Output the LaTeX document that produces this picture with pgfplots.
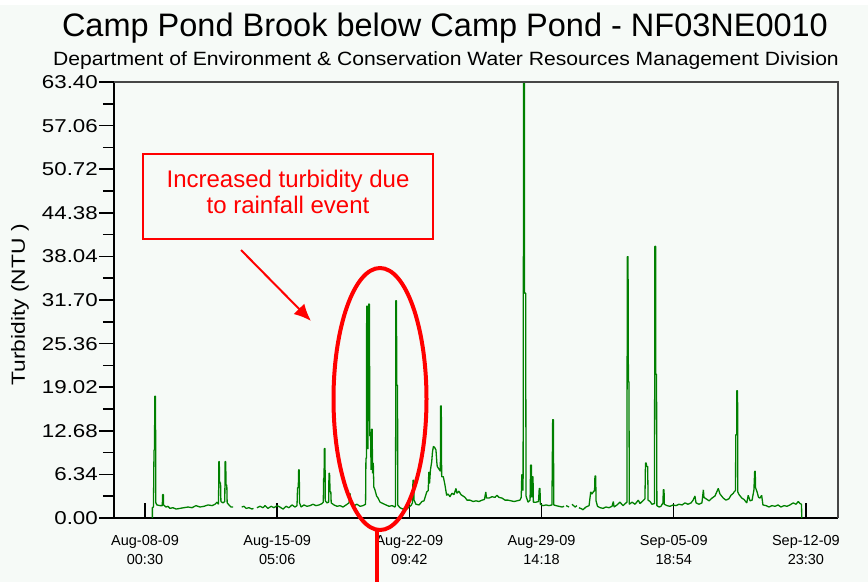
\documentclass[border=0pt]{standalone}
\usepackage{fontspec}
\setmainfont{Liberation Sans}
\newfontfamily\widefont[FakeStretch=1.2]{Liberation Sans}
\usepackage{pgfplots}
\pgfplotsset{compat=1.18}
\usetikzlibrary{arrows.meta}
\definecolor{bg}{RGB}{246,250,247}
\definecolor{dgreen}{RGB}{0,128,0}
\definecolor{boxgray}{RGB}{70,70,70}
\begin{document}
\begin{tikzpicture}[x=1pt,y=1pt]
\useasboundingbox (0,0) rectangle (868,-582);
\fill[bg] (0,0) rectangle (868,-582);
\fill[white] (0,0) rectangle (868,-5);
\begin{axis}[
  at={(114pt,-518pt)}, anchor=south west,
  width=724pt, height=436pt, scale only axis,
  xmin=-1.687, xmax=37.704, ymin=0, ymax=63.4,
  clip=false,
  axis lines*=left,
  axis line style={black, line width=1.8pt},
  xtick={0,7.191667,14.383333,21.575,28.766667,35.958333},
  xticklabels={{Aug-08-09\\00:30},{Aug-15-09\\05:06},{Aug-22-09\\09:42},{Aug-29-09\\14:18},{Sep-05-09\\18:54},{Sep-12-09\\23:30}},
  ytick={0,6.34,12.68,19.02,25.36,31.70,38.04,44.38,50.72,57.06,63.40},
  yticklabels={0.00,6.34,12.68,19.02,25.36,31.70,38.04,44.38,50.72,57.06,63.40},
  minor y tick num=1,
  xtick align=inside, ytick align=outside,
  major tick length=15pt, minor tick length=11pt,
  tick style={black, line width=1.5pt},
  xticklabel style={font=\fontsize{14.5}{19}\selectfont, align=center, yshift=-14pt},
  yticklabel style={font=\widefont\fontsize{18.6}{20}\selectfont, inner sep=1pt},
]
\addplot[dgreen, line width=1.3pt, unbounded coords=jump, line join=bevel] coordinates {
(0.40,0) (0.40,1.5) (0.46,1.6) (0.49,9.9) (0.52,9.9) (0.53,17.7) (0.57,17.7) (0.59,2.2)
(0.65,1.9) (0.82,1.8) (0.94,1.8) (0.96,3.4) (1.00,3.4) (1.01,1.9) (1.14,1.6) (1.25,1.7)
(1.36,1.4) (1.52,1.5) (1.69,1.3) (1.90,1.4) (2.12,1.5) (2.34,1.6) (2.56,1.5) (2.77,1.8)
(2.99,1.6) (3.21,1.7) (3.43,1.9) (3.65,1.8) (3.81,2.0) (3.92,2.3) (4.00,2.0) (4.02,8.2)
(4.04,8.2) (4.06,5.1) (4.11,5.1) (4.13,2.4) (4.24,2.2) (4.34,2.4) (4.36,8.2) (4.39,8.2)
(4.41,4.8) (4.45,4.8) (4.47,2.2) (4.57,1.9) (4.68,1.6) (4.79,1.6) (4.80,nan)
(5.26,1.6) (5.39,1.7) (5.50,1.4) (5.66,1.5) (5.82,1.3) (5.90,1.4) (5.95,nan)
(6.09,1.5) (6.26,1.7) (6.42,1.5) (6.53,1.8) (6.69,1.4) (6.86,1.7) (7.02,1.5) (7.18,1.8)
(7.34,1.6) (7.51,1.3) (7.67,1.7) (7.83,1.5) (8.00,1.9) (8.16,1.6) (8.27,1.8) (8.30,4.4)
(8.34,4.4) (8.36,7.0) (8.39,7.0) (8.41,2.2) (8.49,1.6) (8.65,1.9) (8.81,1.7) (8.98,1.8)
(9.14,2.0) (9.30,1.8) (9.47,1.9) (9.63,2.1) (9.70,2.3) (9.72,5.8) (9.74,5.8) (9.76,10.1)
(9.79,10.1) (9.81,2.5) (9.90,2.2) (9.99,2.3) (10.01,6.5) (10.04,6.5) (10.07,3.8) (10.11,3.8)
(10.13,2.2) (10.28,1.9) (10.45,1.7) (10.61,1.8) (10.77,1.6) (10.94,1.9) (11.10,2.2) (11.15,3.6)
(11.21,2.3) (11.37,1.8) (11.53,2.0) (11.70,1.7) (11.86,1.8) (12.00,2.0) (12.02,8.7) (12.05,8.7)
(12.06,30.8) (12.11,30.8) (12.13,10.0) (12.17,31.1) (12.21,31.1) (12.23,11.9) (12.27,12.5) (12.30,7.0)
(12.32,12.9) (12.36,12.9) (12.38,6.5) (12.42,8.0) (12.45,4.5) (12.51,4.1) (12.60,3.2) (12.68,2.9)
(12.79,2.3) (12.95,2.1) (13.11,1.9) (13.28,1.7) (13.44,1.8) (13.60,1.6) (13.63,1.8) (13.65,31.6)
(13.68,31.6) (13.70,19.3) (13.74,19.3) (13.75,1.9) (13.87,1.5) (14.02,1.3) (14.15,1.5) (14.25,1.3)
(14.36,1.6) (14.47,1.8) (14.55,2.2) (14.58,5.5) (14.62,5.5) (14.64,2.6) (14.74,2.0) (14.91,1.9)
(15.07,2.4) (15.18,2.5) (15.33,3.8) (15.41,4.0) (15.44,6.7) (15.48,5.0) (15.53,7.0) (15.60,8.2)
(15.64,9.6) (15.69,10.4) (15.75,10.3) (15.83,9.9) (15.88,8.0) (15.90,7.5) (15.97,7.2) (16.07,6.8)
(16.08,16.3) (16.12,16.3) (16.14,6.0) (16.23,6.0) (16.32,4.8) (16.41,3.3) (16.49,3.5) (16.59,3.1)
(16.70,3.6) (16.81,3.4) (16.92,4.3) (16.97,3.6) (17.08,3.9) (17.19,3.4) (17.30,3.2) (17.41,3.0)
(17.52,2.6) (17.68,2.6) (17.85,2.4) (18.01,2.5) (18.17,2.4) (18.34,2.6) (18.47,2.7) (18.54,3.8)
(18.58,2.9) (18.72,2.9) (18.88,3.1) (19.04,3.0) (19.15,3.3) (19.26,3.0) (19.42,2.9) (19.59,2.6)
(19.75,2.6) (19.91,2.5) (20.08,2.4) (20.24,2.5) (20.40,2.6) (20.47,3.0) (20.50,6.3) (20.54,6.3)
(20.57,4.0) (20.60,63.4) (20.64,63.4) (20.65,32.7) (20.71,32.7) (20.73,3.2) (20.84,2.3) (20.95,2.6)
(20.98,7.7) (21.02,7.7) (21.04,3.0) (21.07,6.0) (21.11,6.0) (21.13,2.3) (21.27,2.3) (21.41,2.4)
(21.45,4.3) (21.49,4.3) (21.51,2.0) (21.65,1.8) (21.82,1.9) (21.98,1.8) (22.14,1.9) (22.18,14.3)
(22.22,14.3) (22.24,1.9) (22.36,1.8) (22.52,1.7) (22.69,1.6) (22.80,1.7) (22.85,nan)
(22.91,1.8) (23.07,1.6) (23.15,nan) (23.23,2.0) (23.40,1.6) (23.50,1.8) (23.56,nan)
(23.61,1.5) (23.78,1.3) (23.83,1.2) (23.99,1.6) (24.16,1.8) (24.25,3.8) (24.32,3.5) (24.39,3.8)
(24.46,4.0) (24.48,6.1) (24.52,6.1) (24.54,2.5) (24.62,1.7) (24.76,1.5) (24.92,1.4) (25.08,1.6)
(25.24,1.5) (25.41,1.7) (25.48,2.4) (25.52,1.6) (25.68,1.9) (25.84,2.3) (26.01,1.8) (26.17,2.2)
(26.22,2.3) (26.24,38.0) (26.28,38.0) (26.30,19.8) (26.33,19.8) (26.35,2.0) (26.50,2.3) (26.66,2.0)
(26.84,2.6) (26.93,2.1) (27.09,2.5) (27.20,2.8) (27.23,8.0) (27.27,8.0) (27.29,7.5) (27.35,7.5)
(27.37,2.6) (27.48,2.4) (27.58,2.0) (27.72,2.1) (27.74,39.5) (27.78,39.5) (27.79,20.9) (27.83,20.9)
(27.85,1.8) (27.97,1.6) (28.07,1.7) (28.18,2.2) (28.20,4.1) (28.24,4.1) (28.25,2.0) (28.40,1.8)
(28.56,1.7) (28.73,1.9) (28.89,1.8) (29.05,2.0) (29.22,1.9) (29.38,2.2) (29.54,2.0) (29.71,2.2)
(29.82,2.6) (29.92,3.2) (29.98,2.2) (30.14,2.0) (30.30,2.2) (30.38,4.1) (30.41,3.0) (30.52,2.8)
(30.69,2.5) (30.85,2.9) (31.01,3.2) (31.19,4.3) (31.28,3.5) (31.46,2.9) (31.61,2.6) (31.77,2.8)
(31.88,3.3) (32.01,3.6) (32.05,3.8) (32.13,4.0) (32.14,12.1) (32.19,12.1) (32.20,18.5) (32.24,18.5)
(32.25,3.8) (32.32,3.4) (32.47,2.9) (32.59,2.7) (32.74,2.2) (32.82,3.3) (32.92,2.5) (33.03,2.6)
(33.13,4.1) (33.17,6.8) (33.20,6.8) (33.22,4.4) (33.30,3.8) (33.38,3.0) (33.46,2.9) (33.55,3.3)
(33.62,1.9) (33.79,1.8) (33.95,1.6) (34.11,1.8) (34.28,1.7) (34.44,1.9) (34.60,1.6) (34.77,1.8)
(34.93,1.7) (35.09,1.9) (35.27,2.2) (35.42,2.0) (35.54,2.4) (35.64,2.1) (35.72,2.0) (35.73,0)
};
\draw[boxgray, line width=1.4pt] (rel axis cs:0,1) -- (rel axis cs:1,1) -- (rel axis cs:1,0);
\end{axis}
% titles
\node[anchor=base, font=\fontsize{32.5}{36}\selectfont] at (445,-36) {Camp Pond Brook below Camp Pond - NF03NE0010};
\node[anchor=base, font=\fontsize{19.2}{22}\selectfont] at (446,-65) {\addfontfeature{FakeStretch=1.1}Department of Environment \& Conservation Water Resources Management Division};
\node[rotate=90, font=\widefont\fontsize{19}{22}\selectfont] at (20,-305) {Turbidity (NTU )};
% annotation
\draw[red, line width=2pt] (143,-154) rectangle (433,-239);
\node[anchor=base, text=red, font=\fontsize{24}{26}\selectfont] at (288,-187) {Increased turbidity due};
\node[anchor=base, text=red, font=\fontsize{24}{26}\selectfont] at (288,-213) {to rainfall event};
\draw[red, line width=2pt, -{Latex[length=17pt,width=15pt]}] (241,-250) -- (311,-321);
\draw[red, line width=4pt] (380,-399) ellipse [x radius=46.5pt, y radius=131pt];
\draw[red, line width=3.5pt] (377,-528) -- (377,-582);
\end{tikzpicture}
\end{document}
